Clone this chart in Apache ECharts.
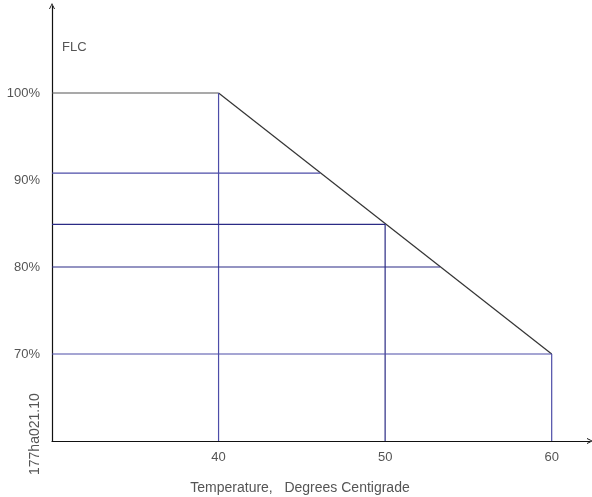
<!DOCTYPE html>
<html><head><meta charset="utf-8">
<script src="https://cdn.jsdelivr.net/npm/echarts@6/dist/echarts.min.js"></script>
<style>html,body{margin:0;padding:0;background:#fff}#c{width:592px;height:497px}</style>
</head><body><div id="c"></div>
<script>
const xTicks = [40, 50, 60];
const yTicks = [70, 80, 90, 100];
// segments: [x, y] end points
const seg100 = [[30, 100], [40, 100]];
const segDiag = [[40, 100], [60, 70]];
const segV40 = [[40, 100], [40, 60]];
const seg91 = [[30, 90.8], [46.1, 90.8]];
const seg85 = [[30, 84.9], [50, 84.9]];
const segV50 = [[50, 84.9], [50, 60]];
const seg80 = [[30, 80], [53.3, 80]];
const seg70 = [[30, 70], [60, 70]];
const segV60 = [[60, 70], [60, 60]];

const LIGHT = '#4d4da8', NAVY = '#2b2b85', GRAY = '#555555', DARK = '#333333';
function line(data, color) {
  return {type: 'line', data: data, symbol: 'none', silent: true, animation: false,
    lineStyle: {color: color, width: 1.2}};
}
const chevron = 'path://M0,10 L5,0 L10,10 L8.4,10 L5,3 L1.6,10 Z';
const font = 'Liberation Sans, Arial, sans-serif';
const chart = echarts.init(document.getElementById('c'));
chart.setOption({
  animation: false,
  grid: {left: 52, right: 2, top: 6, bottom: 56, containLabel: false, outerBoundsMode: 'none'},
  xAxis: {type: 'value', min: 30, max: 62.3, interval: 10,
    axisLine: {lineStyle: {color: '#111', width: 1.2}, symbol: ['none', chevron], symbolSize: [9, 6]},
    axisTick: {show: false}, splitLine: {show: false},
    axisLabel: {color: '#555', fontSize: 13, fontFamily: font, margin: 10,
      customValues: xTicks, formatter: v => String(v)},
    name: 'Temperature,   Degrees Centigrade', nameLocation: 'middle', nameGap: 40,
    nameTextStyle: {color: '#555', fontSize: 14, fontFamily: font, padding: [0, 42, 0, 0]}},
  yAxis: {type: 'value', min: 60, max: 110, interval: 10,
    axisLine: {show: true, lineStyle: {color: '#111', width: 1.2}, symbol: ['none', chevron], symbolSize: [9, 6]},
    axisTick: {show: false}, splitLine: {show: false},
    axisLabel: {color: '#555', fontSize: 13, fontFamily: font, margin: 12,
      customValues: yTicks, formatter: v => v + '%'}},
  graphic: [
    {type: 'text', left: 62, top: 41, style: {text: 'FLC', fill: '#555', font: '13px ' + font}},
    {type: 'text', x: 28, y: 475, rotation: Math.PI / 2, style: {text: '177ha021.10', fill: '#555', font: '14px ' + font, textAlign: 'left', textVerticalAlign: 'top'}}
  ],
  series: [
    line(seg100, GRAY), line(segDiag, DARK), line(segV40, LIGHT), line(seg91, LIGHT),
    line(seg85, NAVY), line(segV50, NAVY), line(seg80, NAVY), line(seg70, LIGHT), line(segV60, LIGHT)
  ]
});
</script></body></html>
